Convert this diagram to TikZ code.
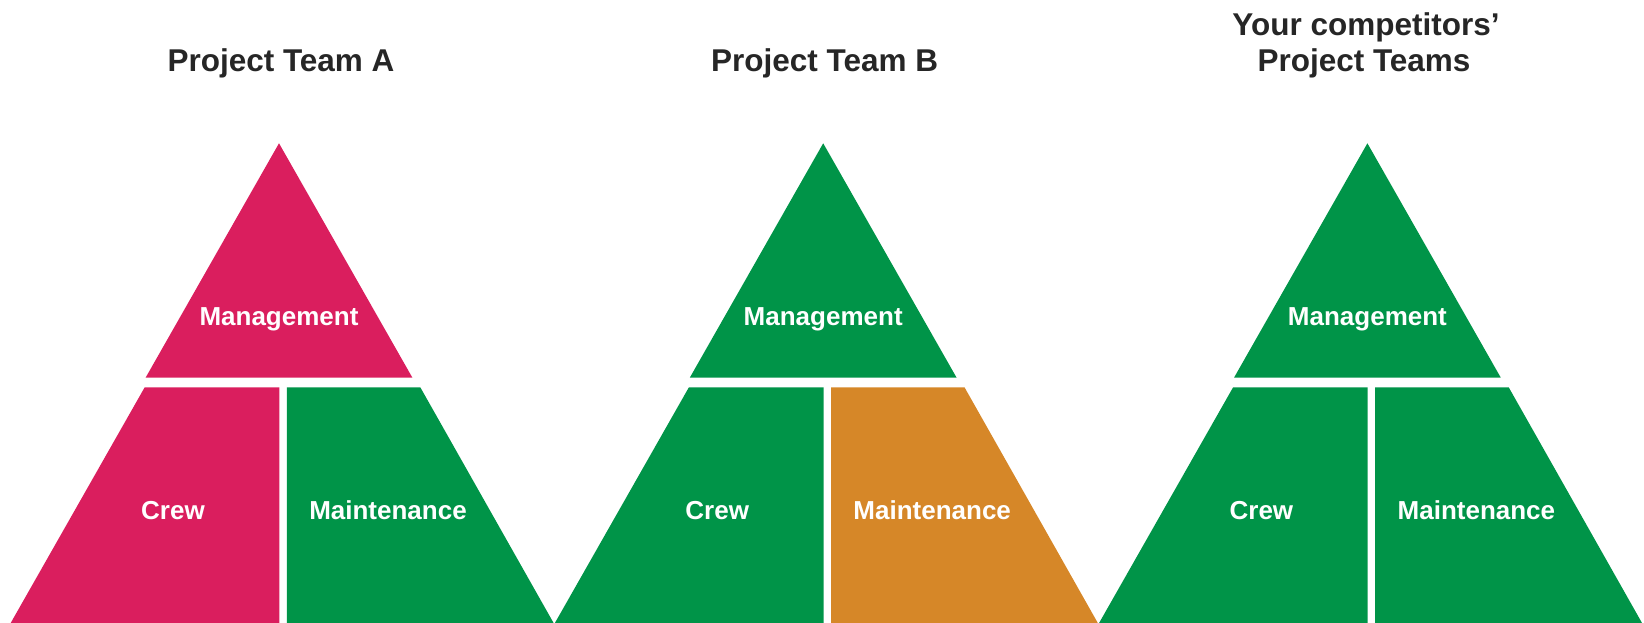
\documentclass[tikz,border=0pt]{standalone}
\usepackage{fontspec}
\setmainfont{Liberation Sans}
\definecolor{mgpink}{HTML}{DA1E5E}
\definecolor{mggreen}{HTML}{009448}
\definecolor{mgorange}{HTML}{D68728}
\definecolor{titlegray}{HTML}{262626}
\begin{document}
\begin{tikzpicture}[x=1pt,y=-1pt,
  title/.style={font=\fontsize{31.5}{36}\selectfont\bfseries, text=titlegray, inner sep=0pt, anchor=base, align=center},
  label/.style={font=\fontsize{26}{30}\selectfont\bfseries, text=white, inner sep=0pt, anchor=base}]
\useasboundingbox (0,0) rectangle (1644,623);

% one pyramid: apex at local x=0; #1 = shift, #2..#4 = colours, #5 = name prefix
\newcommand\teampyramid[5]{%
  \begin{scope}[xshift=#1]
    \fill[#2] (0,143.3) -- (133.3,377.5) -- (-133.3,377.5) -- cycle;
    \fill[#3] (-134.3,387.3) -- (0.3,387.3) -- (0.3,622.8) -- (-268.2,622.8) -- cycle;
    \fill[#4] (7.8,387.3) -- (141.3,387.3) -- (274.5,622.8) -- (7.8,622.8) -- cycle;
    \node[label] (#5mgmt) at (0,325.3) {Management};
    \node[label] (#5crew) at (-106,519) {Crew};
    \node[label] (#5maint) at (109,519) {Maintenance};
  \end{scope}}

\teampyramid{279pt}{mgpink}{mgpink}{mggreen}{a}
\teampyramid{823.2pt}{mggreen}{mggreen}{mgorange}{b}
\teampyramid{1367.4pt}{mggreen}{mggreen}{mggreen}{c}

\node[title] (titleA) at (281,71.7) {Project Team A};
\node[title] (titleB) at (824.6,71.7) {Project Team B};
\node[title] (titleC1) at (1366,35.5) {Your competitors’};
\node[title] (titleC2) at (1364,71.7) {Project Teams};
\end{tikzpicture}
\end{document}
